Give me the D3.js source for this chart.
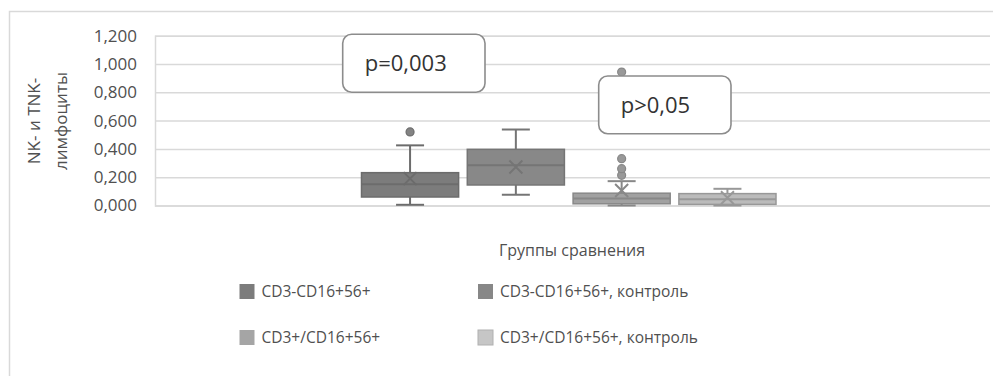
<!DOCTYPE html>
<html>
<head>
<meta charset="utf-8">
<script src="https://cdn.jsdelivr.net/npm/d3@7/dist/d3.min.js"></script>
<style>
  html, body { margin: 0; padding: 0; background: #ffffff; }
  svg { display: block; font-family: "Open Sans", sans-serif; }
</style>
</head>
<body>
<svg id="chart" width="993" height="376"></svg>
<script>
// ---- data ----
const series = ["CD3-CD16+56+", "CD3-CD16+56+, контроль", "CD3+/CD16+56+", "CD3+/CD16+56+, контроль"];
const whiskerLow  = [0.005, 0.076, 0.000, 0.000];
const q1          = [0.060, 0.145, 0.012, 0.008];
const median      = [0.150, 0.285, 0.050, 0.045];
const q3          = [0.232, 0.397, 0.087, 0.084];
const whiskerHigh = [0.425, 0.537, 0.172, 0.118];
const mean        = [0.190, 0.272, 0.106, 0.055];
const outliers    = [[0.520], [], [0.213, 0.260, 0.331, 0.943], []];
const yTicks = [0, 0.2, 0.4, 0.6, 0.8, 1.0, 1.2];
const yTitle = ["NK- и TNK-", "лимфоциты"];
const xTitle = "Группы сравнения";
const callouts = [
  { text: "p=0,003", yTop: 1.21, yBottom: 0.80 },
  { text: "p>0,05",  yTop: 0.915, yBottom: 0.507 }
];

const fills   = ["#7c7c7c", "#888888", "#a1a1a1", "#bbbbbb"];
const strokes = ["#6c6c6c", "#757575", "#888888", "#989898"];
const legendFills = ["#7c7c7c", "#878787", "#a5a5a5", "#c6c6c6"];

const svg = d3.select("#chart");
const plot = { left: 155, right: 990, top: 35.7, bottom: 205.5 };

// outer frame
svg.append("rect").attr("x", 9.5).attr("y", 11.5).attr("width", 990).attr("height", 420)
  .attr("fill", "none").attr("stroke", "#d9d9d9").attr("stroke-width", 1.5);

const y = d3.scaleLinear().domain([0, 1.2]).range([plot.bottom, plot.top]);
const x = d3.scaleBand().domain(series).range([361.5, 776]).paddingInner(0.082).paddingOuter(0);

// gridlines + tick labels
const yAxis = d3.axisLeft(y).tickValues(yTicks)
  .tickSize(-(plot.right - plot.left)).tickPadding(18)
  .tickFormat(d => d3.format(",.3f")(d).replace(".", ","));
const gy = svg.append("g").attr("transform", `translate(${plot.left},0)`).call(yAxis);
gy.select(".domain").attr("stroke", "#d9d9d9").attr("stroke-width", 1.5);
gy.selectAll(".tick line").attr("stroke", "#d9d9d9").attr("stroke-width", 1.5);
gy.selectAll(".tick text").attr("fill", "#505050").attr("font-size", 17).attr("font-family", "Open Sans, sans-serif");

// y title
const yt = svg.append("text").attr("transform", "translate(48,121) rotate(-90)")
  .attr("text-anchor", "middle").attr("fill", "#505050").attr("font-size", 17);
yt.append("tspan").attr("x", 0).attr("dy", "-0.5em").text(yTitle[0]);
yt.append("tspan").attr("x", 0).attr("dy", "1.6em").text(yTitle[1]);

// boxes
series.forEach((s, i) => {
  const bx = x(s), bw = x.bandwidth(), cx = bx + bw / 2;
  const g = svg.append("g");
  const capW = 28;
  const lc = strokes[i];
  g.append("line").attr("x1", cx).attr("x2", cx).attr("y1", y(q3[i])).attr("y2", y(whiskerHigh[i])).attr("stroke", lc).attr("stroke-width", 2);
  g.append("line").attr("x1", cx).attr("x2", cx).attr("y1", y(q1[i])).attr("y2", y(whiskerLow[i])).attr("stroke", lc).attr("stroke-width", 2);
  g.append("line").attr("x1", cx - capW / 2).attr("x2", cx + capW / 2).attr("y1", y(whiskerHigh[i])).attr("y2", y(whiskerHigh[i])).attr("stroke", lc).attr("stroke-width", 2);
  g.append("line").attr("x1", cx - capW / 2).attr("x2", cx + capW / 2).attr("y1", y(whiskerLow[i])).attr("y2", y(whiskerLow[i])).attr("stroke", lc).attr("stroke-width", 2);
  g.append("rect").attr("x", bx).attr("width", bw).attr("y", y(q3[i])).attr("height", y(q1[i]) - y(q3[i]))
    .attr("fill", fills[i]).attr("stroke", lc).attr("stroke-width", 1.5);
  g.append("line").attr("x1", bx).attr("x2", bx + bw).attr("y1", y(median[i])).attr("y2", y(median[i])).attr("stroke", lc).attr("stroke-width", 2);
  const m = y(mean[i]), s2 = 6.5;
  g.append("path").attr("d", `M${cx - s2},${m - s2}L${cx + s2},${m + s2}M${cx - s2},${m + s2}L${cx + s2},${m - s2}`)
    .attr("stroke", lc).attr("stroke-width", 2).attr("fill", "none");
  outliers[i].forEach(v => {
    g.append("circle").attr("cx", cx).attr("cy", y(v)).attr("r", 4)
      .attr("fill", i === 2 ? "#999999" : "#838383").attr("stroke", lc).attr("stroke-width", 1.2);
  });
});

// callouts
const callX = [[342.7, 485], [598.7, 731]];
callouts.forEach((c, k) => {
  const x0 = callX[k][0], x1 = callX[k][1];
  const yT = y(c.yTop), yB = y(c.yBottom);
  svg.append("rect").attr("x", x0).attr("y", yT).attr("width", x1 - x0).attr("height", yB - yT)
    .attr("rx", 9).attr("ry", 9).attr("fill", "#ffffff").attr("stroke", "#8c8c8c").attr("stroke-width", 1.6);
  svg.append("text").attr("x", x0 + 22).attr("y", (yT + yB) / 2).attr("dy", "0.36em")
    .attr("fill", "#333333").attr("font-size", 22).text(c.text);
});

// x title
svg.append("text").attr("x", 572).attr("y", 250).attr("dy", "0.35em")
  .attr("text-anchor", "middle").attr("fill", "#505050").attr("font-size", 16).text(xTitle);

// legend
const legPos = [[239.5, 292], [478, 292], [239.5, 338], [478, 338]];
series.forEach((s, i) => {
  const [lx, ly] = legPos[i];
  svg.append("rect").attr("x", lx).attr("y", ly - 8).attr("width", 15).attr("height", 15)
    .attr("fill", legendFills[i]).attr("stroke", i === 3 ? "#b0b0b0" : "none");
  svg.append("text").attr("x", lx + 22).attr("y", ly).attr("dy", "0.35em")
    .attr("fill", "#505050").attr("font-size", 15.5).text(s);
});
</script>
</body>
</html>
